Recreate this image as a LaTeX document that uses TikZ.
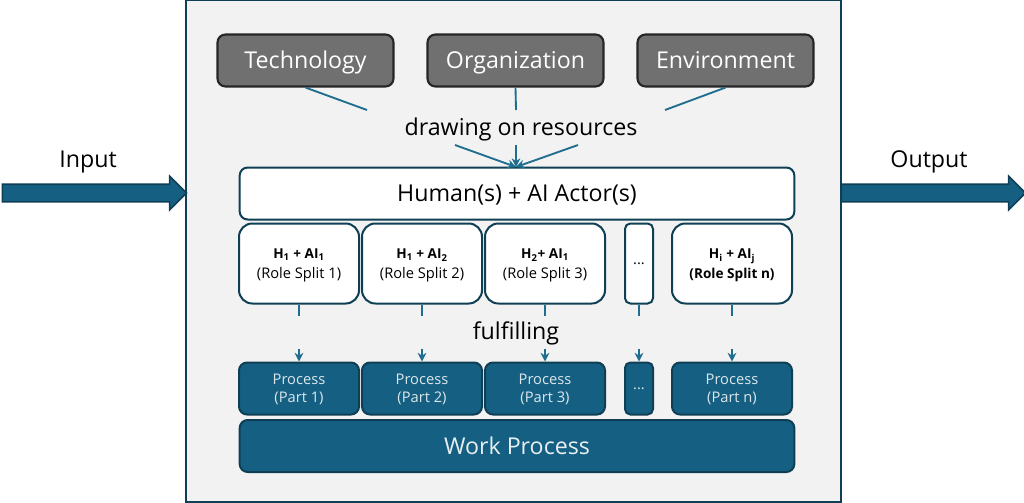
\documentclass[tikz,border=0pt]{standalone}
\usepackage{fontspec}
\setmainfont{Open Sans}
\usetikzlibrary{arrows.meta,shapes.arrows}
\definecolor{procblue}{HTML}{156082}
\definecolor{edgeblue}{HTML}{0E3F55}
\definecolor{linkblue}{HTML}{1F6E8F}
\definecolor{framegray}{HTML}{F2F2F2}
\definecolor{resgray}{HTML}{707070}
\tikzset{
  bigtext/.style={font=\fontsize{17.4}{20}\selectfont,text height=15pt,text depth=3pt},
  resource/.style={bigtext,draw=black!85,line width=1.6pt,fill=resgray,rounded corners=6pt,text=white,
    minimum width=132pt,minimum height=39pt,inner sep=0pt},
  wide/.style={bigtext,draw=edgeblue,line width=1.5pt,rounded corners=6pt,minimum width=416pt,minimum height=39pt,inner sep=0pt},
  role/.style={draw=edgeblue,line width=1.5pt,fill=white,rounded corners=10pt,minimum height=60pt,inner sep=0pt,
    align=center,text depth=0pt,font=\fontsize{11}{14.5}\selectfont},
  part/.style={draw=edgeblue,line width=1.5pt,fill=procblue,rounded corners=6pt,text=white!85!procblue,minimum height=39pt,inner sep=0pt,
    align=center,text depth=0pt,font=\fontsize{11}{13.5}\selectfont},
  flow/.style={single arrow,draw=edgeblue,line width=1.2pt,fill=procblue,single arrow head extend=6pt,
    inner xsep=0pt,inner ysep=6pt},
  link/.style={draw=linkblue,line width=1.4pt},
  linkto/.style={link,-{Stealth[length=6.5pt,width=6.5pt]}},
  caption/.style={bigtext}
}
\newcommand{\keytext}[1]{{\fontsize{10.2}{14.5}\selectfont\bfseries #1}}
\begin{document}
\begin{tikzpicture}[x=0.75pt,y=-0.75pt]
\useasboundingbox (0,0) rectangle (1024,503);

\node[draw=edgeblue,line width=1.6pt,fill=framegray,minimum width=491pt,minimum height=376pt,inner sep=0pt] (frame) at (513.5,251) {};

% inputs and outputs
\node[flow,minimum height=138pt] (input) at (90,193) {};
\node[flow,minimum height=138pt] (output) at (929,193) {};
\node[caption] (inputlabel) at (88,159) {Input};
\node[caption] (outputlabel) at (929,159) {Output};

% resources
\node[resource] (tech) at (305.5,60.5) {Technology};
\node[resource] (orga) at (515.5,60.5) {Organization};
\node[resource] (envi) at (725.5,60.5) {Environment};
\node[caption] (drawing) at (521,127) {drawing on resources};

\node[wide,fill=white] (actors) at (517,193.5) {Human(s) + AI Actor(s)};

% role splits
\node[role,minimum width=90pt] (roleA) at (299,263.5) {\keytext{H\textsubscript{1} + AI\textsubscript{1}}\\(Role Split 1)};
\node[role,minimum width=90pt] (roleB) at (422,263.5) {\keytext{H\textsubscript{1} + AI\textsubscript{2}}\\(Role Split 2)};
\node[role,minimum width=90pt] (roleC) at (545,263.5) {\keytext{H\textsubscript{2}+ AI\textsubscript{1}}\\(Role Split 3)};
\node[role,minimum width=21pt,rounded corners=4pt] (roleD) at (639,263.5) {...};
\node[role,minimum width=90pt] (roleE) at (732,263.5) {\keytext{H\textsubscript{i} + AI\textsubscript{j}}\\\keytext{(Role Split n)}};

\node[caption] (fulfilling) at (516,331) {fulfilling};

% process parts
\node[part,minimum width=90pt] (partA) at (299,388.5) {Process\\(Part 1)};
\node[part,minimum width=90pt] (partB) at (422,388.5) {Process\\(Part 2)};
\node[part,minimum width=90pt] (partC) at (545,388.5) {Process\\(Part 3)};
\node[part,minimum width=21pt,rounded corners=4pt] (partD) at (639,388.5) {...};
\node[part,minimum width=90pt] (partE) at (732,388.5) {Process\\(Part n)};

\node[wide,fill=procblue,text=white!90!procblue] (work) at (517,446) {Work Process};

% links broken by the captions
\coordinate (techend) at (367,110);
\coordinate (orgaend) at (516,110);
\coordinate (enviend) at (665,110);
\coordinate (techout) at (455,145);
\coordinate (orgaout) at (516,145);
\coordinate (enviout) at (578,145);
\coordinate (target) at (516,167);
\draw[link] (tech.south) -- (techend);
\draw[link] (orga.south) -- (orgaend);
\draw[link] (envi.south) -- (enviend);
\draw[linkto] (techout) -- (target);
\draw[linkto] (orgaout) -- (target);
\draw[linkto] (enviout) -- (target);

\foreach \col in {A,B,C,D,E}{
  \path (role\col.south) ++(0,11) coordinate (stop\col);
  \path (part\col.north) ++(0,-13) coordinate (go\col);
  \draw[link] (role\col.south) -- (stop\col);
  \draw[linkto] (go\col) -- (part\col.north);
}
\end{tikzpicture}
\end{document}
